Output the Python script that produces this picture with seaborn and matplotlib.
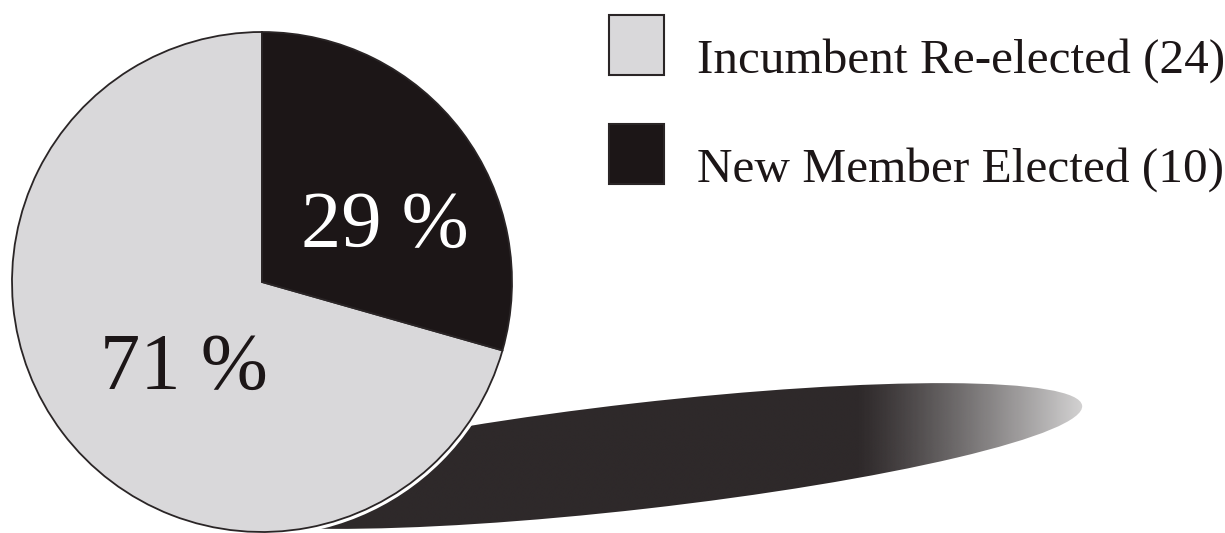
import numpy as np
import seaborn as sns
import matplotlib.pyplot as plt
from matplotlib.patches import Ellipse, Circle, Rectangle

# Data
categories = ["Incumbent Re-elected", "New Member Elected"]
counts = [24, 10]
pct_labels = ["71 %", "29 %"]

sns.set_theme(style="white")
plt.rcParams['font.family'] = ['Liberation Serif', 'DejaVu Serif']

colors = ["#d9d8da", "#1c1617"]
text_colors = ["#1c1617", "white"]

fig = plt.figure(figsize=(12.25, 5.33), dpi=100)
ax = fig.add_axes([0, 0, 1, 1])

# Pie (pixel-like coordinates, y up)
cx, cy, r = 262, 251, 250
wedges, _ = ax.pie(counts, colors=colors, startangle=90, center=(cx, cy), radius=r,
                   wedgeprops=dict(edgecolor="#2a2526", linewidth=1.3, zorder=4))

# percentage labels
label_pos = [(184, 144), (385, 286)]
for (x, y), txt, tc in zip(label_pos, pct_labels, text_colors):
    ax.text(x, y, txt, fontsize=58, color=tc, ha="center", va="baseline", zorder=5)

# Shadow: elongated ellipse fading to the right
shadow = Ellipse((640, 77), 890, 106, angle=6.5, facecolor="none", edgecolor="none")
ax.add_patch(shadow)
gx = np.linspace(150, 1100, 600)
t = np.clip((gx - 860) / (1135 - 860), 0, 1)
alpha = 1 - t ** 1.15
rgba = np.zeros((1, len(gx), 4))
rgba[..., :3] = np.array([0x2e, 0x29, 0x2a]) / 255
rgba[..., 3] = alpha
im = ax.imshow(rgba, extent=(150, 1100, -10, 200), aspect="auto", zorder=1,
               interpolation="bilinear")
im.set_clip_path(shadow)

# thin white gap between pie and shadow
ax.add_patch(Circle((cx, cy), r + 4, facecolor="white", edgecolor="none", zorder=2))

# Legend drawn as boxes and text
box_y = [458, 349]
text_y = [460, 351]
for i, name in enumerate(categories):
    ax.add_patch(Rectangle((609, box_y[i]), 55, 60, facecolor=colors[i],
                           edgecolor="#2a2526", linewidth=1.5, zorder=3))
    ax.text(697, text_y[i], f"{name} ({counts[i]})", fontsize=35.5,
            color="#1c1617", ha="left", va="baseline", zorder=3)

ax.set_xlim(0, 1225)
ax.set_ylim(0, 533)
ax.set_aspect("auto")
ax.axis("off")

fig.savefig("out.png", dpi=100, facecolor="white")
